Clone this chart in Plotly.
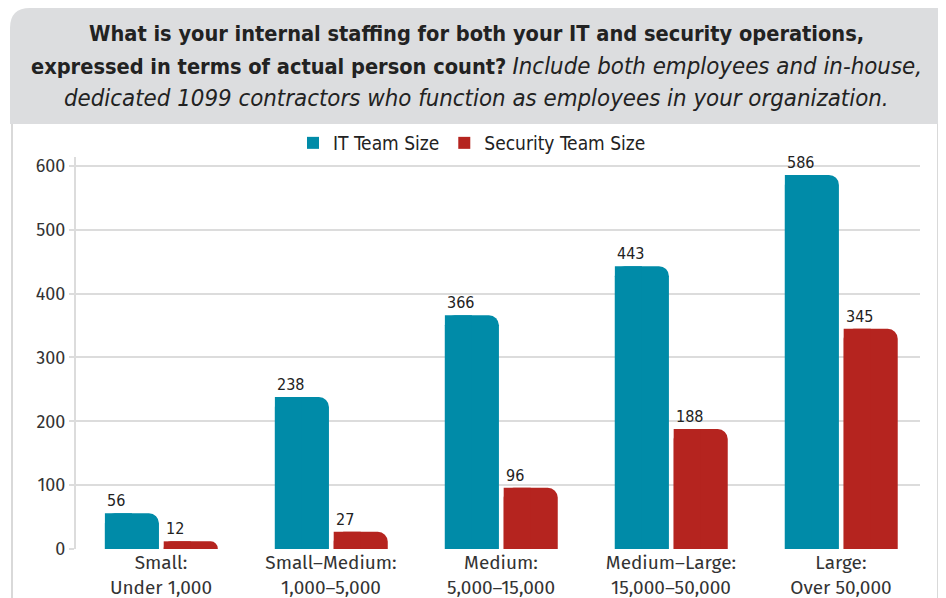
import plotly.graph_objects as go

categories = ["Small:<br>Under 1,000", "Small–Medium:<br>1,000–5,000", "Medium:<br>5,000–15,000",
              "Medium–Large:<br>15,000–50,000", "Large:<br>Over 50,000"]
it_team = [56, 238, 366, 443, 586]
sec_team = [12, 27, 96, 188, 345]
y_ticks = [0, 100, 200, 300, 400, 500, 600]
title_lines = [
    "<b>What is your internal staffing for both your IT and security operations,</b>",
    "<b>expressed in terms of actual person count?</b> "
    "<i><span style='font-size:23.8px'>Include both employees and in-house,</span></i>",
    "<i><span style='font-size:23.8px'>dedicated 1099 contractors who function as employees in your organization.</span></i>",
]

IT_COLOR = "#008ba8"
SEC_COLOR = "#b5241f"
COND = "Liberation Sans Narrow, DejaVu Sans Condensed, Roboto Condensed, Arial Narrow, sans-serif"
REG = "Fira Sans, Noto Sans, Open Sans, sans-serif"

W, H = 946, 598
OFF = 8  # page body margin
L, R, T, B = 68, 34, 149, 57
PW, PH = W - L - R, H - T - B

def pxx(px):
    # page pixel -> paper fraction
    return (px - OFF - L) / PW

def pxy(py):
    return (H - B - (py - OFF)) / PH

x = list(range(len(categories)))
IT_OFF, SEC_OFF, BW = -0.33, 0.016, 0.318

fig = go.Figure()
fig.add_trace(go.Bar(x=x, y=it_team, showlegend=False, marker=dict(color=IT_COLOR, cornerradius=10),
                     offset=IT_OFF, width=BW, marker_line_width=0))
fig.add_trace(go.Bar(x=x, y=it_team, name="IT Team Size", marker_color=IT_COLOR,
                     offset=IT_OFF, width=BW / 2, marker_line_width=0, hoverinfo="skip"))
fig.add_trace(go.Bar(x=x, y=sec_team, showlegend=False, marker=dict(color=SEC_COLOR, cornerradius=10),
                     offset=SEC_OFF, width=BW, marker_line_width=0))
fig.add_trace(go.Bar(x=x, y=sec_team, name="Security Team Size", marker_color=SEC_COLOR,
                     offset=SEC_OFF, width=BW / 2, marker_line_width=0, hoverinfo="skip"))

annotations = []
for i in x:
    annotations.append(dict(x=i + IT_OFF, y=it_team[i], text=str(it_team[i]), xref="x", yref="y",
                            xanchor="left", yanchor="bottom", showarrow=False, yshift=1,
                            font=dict(family=COND, size=16, color="#222")))
    annotations.append(dict(x=i + SEC_OFF, y=sec_team[i], text=str(sec_team[i]), xref="x", yref="y",
                            xanchor="left", yanchor="bottom", showarrow=False, yshift=1,
                            font=dict(family=COND, size=16, color="#222")))

for line, ypx in zip(title_lines, [33, 66, 98]):
    annotations.append(dict(x=pxx(476), y=pxy(ypx), xref="paper", yref="paper", text=line,
                            showarrow=False, xanchor="center", yanchor="middle", align="center",
                            font=dict(family=COND, size=21.6, color="#222")))

# header and frame
x0, x1, x2 = pxx(10), pxx(946 + 20), pxx(30)
yt, yb, yr = pxy(8), pxy(124), pxy(28)
header_path = (f"M {x0},{yb} L {x0},{yr} Q {x0},{yt} {x2},{yt} L {x1},{yt} L {x1},{yb} Z")
shapes = [
    dict(type="path", path=header_path, xref="paper", yref="paper", fillcolor="#dcdddf",
         line=dict(width=0), layer="below"),
    dict(type="line", xref="paper", yref="paper", x0=pxx(12), x1=pxx(12), y0=pxy(124), y1=pxy(620),
         line=dict(color="#d9d9d9", width=2), layer="below"),
    dict(type="line", xref="paper", yref="paper", x0=pxx(938), x1=pxx(938), y0=pxy(124), y1=pxy(620),
         line=dict(color="#d9d9d9", width=2), layer="below"),
]

fig.update_layout(
    width=W, height=H, margin=dict(l=L, r=R, t=T, b=B, autoexpand=False),
    paper_bgcolor="white", plot_bgcolor="white",
    barmode="overlay",
    showlegend=True,
    legend=dict(orientation="h", xref="paper", yref="paper", x=pxx(472), xanchor="center",
                y=pxy(143), yanchor="middle", font=dict(family=COND, size=19, color="#222"),
                traceorder="normal", bgcolor="rgba(0,0,0,0)"),
    xaxis=dict(range=[-0.5, 4.465], tickvals=x, ticktext=categories, showgrid=False,
               tickfont=dict(family=REG, size=19, color="#333"), ticks="", zeroline=False,
               showline=False),
    yaxis=dict(range=[0, 614], tickvals=y_ticks, showgrid=True, gridcolor="#dcdcdc", gridwidth=2,
               zeroline=False, showline=True, linecolor="#dcdcdc", linewidth=2,
               ticks="outside", ticklen=5, tickcolor="#dcdcdc", tickwidth=2,
               tickfont=dict(family=REG, size=18, color="#333")),
    annotations=annotations, shapes=shapes,
)

fig.write_html("out.html")
